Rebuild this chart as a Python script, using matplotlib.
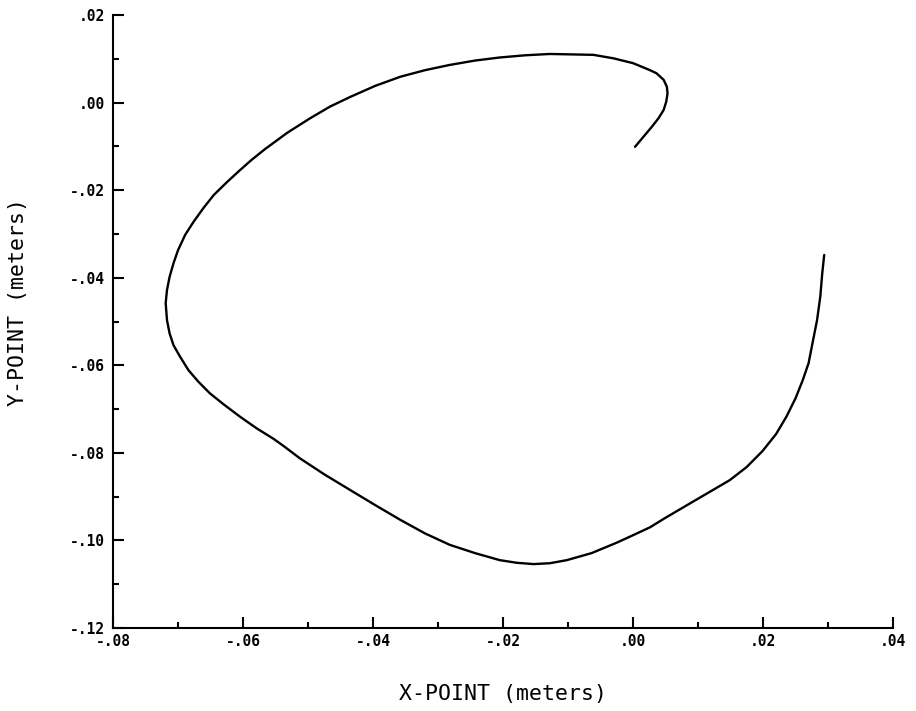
import matplotlib
matplotlib.use("Agg")
import matplotlib.pyplot as plt
from matplotlib.ticker import FixedLocator

# Trayectoria (metros)
x_point = [0.0003, 0.0016, 0.0029, 0.0039, 0.0047, 0.0051, 0.0053, 0.0052,
           0.0047, 0.0036, 0.0026, 0.0000, -0.0030, -0.0061, -0.0094,
           -0.0128, -0.0166, -0.0205, -0.0243, -0.0282, -0.0320, -0.0358,
           -0.0397, -0.0435, -0.0466, -0.0497, -0.0532, -0.0566, -0.0587,
           -0.0606, -0.0625, -0.0645, -0.0661, -0.0676, -0.0689, -0.0700,
           -0.0707, -0.0713, -0.0717, -0.0719, -0.0717, -0.0713, -0.0707,
           -0.0697, -0.0684, -0.0669, -0.0651, -0.0630, -0.0605, -0.0579,
           -0.0553, -0.0537, -0.0512, -0.0474, -0.0435, -0.0397, -0.0358,
           -0.0320, -0.0282, -0.0243, -0.0205, -0.0179, -0.0153, -0.0128,
           -0.0102, -0.0064, -0.0025, 0.0000, 0.0026, 0.0049, 0.0088,
           0.0118, 0.0149, 0.0175, 0.0199, 0.0220, 0.0236, 0.0250, 0.0261,
           0.0270, 0.0277, 0.0283, 0.0288, 0.0291, 0.0294]
y_point = [-0.0101, -0.0078, -0.0055, -0.0036, -0.0017, 0.0002, 0.0021, 0.0036,
           0.0052, 0.0067, 0.0074, 0.0090, 0.0101, 0.0109, 0.0110,
           0.0111, 0.0108, 0.0103, 0.0096, 0.0086, 0.0074, 0.0059,
           0.0038, 0.0013, -0.0009, -0.0036, -0.0069, -0.0106, -0.0131,
           -0.0156, -0.0182, -0.0211, -0.0241, -0.0272, -0.0302, -0.0337,
           -0.0367, -0.0398, -0.0428, -0.0458, -0.0497, -0.0527, -0.0554,
           -0.0580, -0.0611, -0.0637, -0.0664, -0.0689, -0.0717, -0.0744,
           -0.0768, -0.0785, -0.0813, -0.0850, -0.0885, -0.0919, -0.0953,
           -0.0984, -0.1010, -0.1029, -0.1045, -0.1051, -0.1054, -0.1052,
           -0.1045, -0.1029, -0.1005, -0.0988, -0.0970, -0.0949, -0.0915,
           -0.0889, -0.0862, -0.0832, -0.0796, -0.0757, -0.0717, -0.0675, -0.0634,
           -0.0595, -0.0542, -0.0497, -0.0443, -0.0390, -0.0348]

x_ticks = [-0.08, -0.06, -0.04, -0.02, 0.00, 0.02, 0.04]
x_labels = ["-.08", "-.06", "-.04", "-.02", ".00", ".02", ".04"]
y_ticks = [-0.12, -0.10, -0.08, -0.06, -0.04, -0.02, 0.00, 0.02]
y_labels = ["-.12", "-.10", "-.08", "-.06", "-.04", "-.02", ".00", ".02"]

fig = plt.figure(figsize=(9.16, 7.11), dpi=100)
ax = fig.add_axes([0.1234, 0.1167, 0.8516, 0.8622])

ax.plot(x_point, y_point, color="black", linewidth=1.7,
        solid_joinstyle="round", solid_capstyle="round")

ax.set_xlim(-0.08, 0.04)
ax.set_ylim(-0.12, 0.02)

ax.spines["top"].set_visible(False)
ax.spines["right"].set_visible(False)
ax.spines["left"].set_linewidth(1.5)
ax.spines["bottom"].set_linewidth(1.5)

ax.set_xticks(x_ticks)
ax.set_xticklabels(x_labels)
ax.set_yticks(y_ticks)
ax.set_yticklabels(y_labels)
ax.xaxis.set_minor_locator(FixedLocator([-0.07, -0.05, -0.03, -0.01, 0.01, 0.03]))
ax.yaxis.set_minor_locator(FixedLocator([-0.11, -0.09, -0.07, -0.05, -0.03, -0.01, 0.01]))

tick_font = {"family": "DejaVu Sans Mono", "weight": "bold", "size": 10.5}
for lab in ax.get_xticklabels() + ax.get_yticklabels():
    lab.set_fontproperties(tick_font)

ax.tick_params(which="major", direction="in", length=8, width=1.5, pad=4)
ax.tick_params(which="minor", direction="in", length=4, width=1.5)
ax.tick_params(axis="y", which="major", pad=6)

# Etiquetas de ejes
fig.text(503 / 916, 1 - 694 / 711, "X-POINT (meters)", family="DejaVu Sans Mono",
         fontsize=15.5, ha="center", va="center")
fig.text(18 / 916, 1 - 302 / 711, "Y-POINT (meters)", family="DejaVu Sans Mono",
         fontsize=15.5, ha="center", va="center", rotation=90)

fig.savefig("out.png", dpi=100)
